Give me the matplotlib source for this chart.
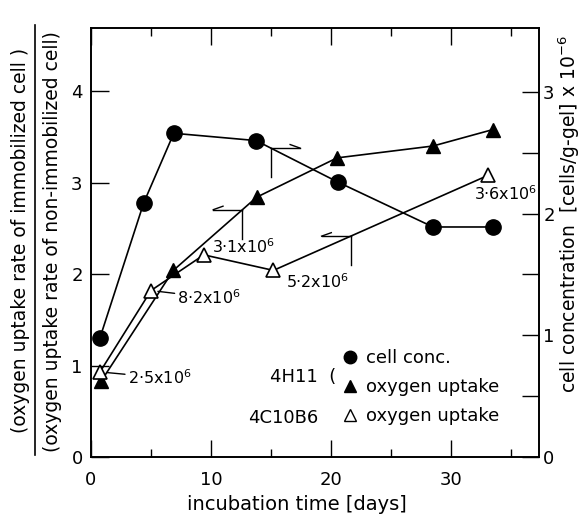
import matplotlib
matplotlib.use("Agg")
import matplotlib.pyplot as plt
from matplotlib.lines import Line2D
from matplotlib.transforms import Affine2D, ScaledTranslation
import numpy as np

# ---- data ----
days_cell = [0.75, 4.4, 6.9, 13.75, 20.55, 28.5, 33.5]
cell_conc = [0.98, 2.09, 2.66, 2.60, 2.26, 1.89, 1.89]

days_4h11 = [0.85, 6.86, 13.8, 20.5, 28.5, 33.5]
uptake_4h11 = [0.83, 2.04, 2.84, 3.27, 3.40, 3.58]

days_4c10 = [0.75, 5.0, 9.4, 15.2, 33.1]
uptake_4c10 = [0.93, 1.82, 2.21, 2.04, 3.08]
labels_4c10 = ["2·5x$10^{6}$", "8·2x$10^{6}$", "3·1x$10^{6}$", "5·2x$10^{6}$", "3·6x$10^{6}$"]

x_ticks = [0, 10, 20, 30]
left_ticks = [0, 1, 2, 3, 4]
right_ticks = [0, 1, 2, 3]

plt.rcParams['font.family'] = ['DejaVu Sans']
FS = 13

W, H = 581, 519
fig = plt.figure(figsize=(W / 100, H / 100), dpi=100)
ax = fig.add_axes([91 / W, 1 - 457 / H, 448 / W, 429 / H])
ax2 = ax.twinx()

ax.set_xlim(0, 37.33)
ax.set_ylim(0, 4.69)
ax2.set_ylim(0, 3.525)

lw = 1.2
ax2.plot(days_cell, cell_conc, '-o', color='black', lw=lw, ms=11, zorder=3)
ax.plot(days_4h11, uptake_4h11, '-^', color='black', lw=lw, ms=10, zorder=3)
ax.plot(days_4c10, uptake_4c10, '-^', color='black', mfc='white', mec='black',
        mew=1.2, lw=lw, ms=10, zorder=4)

# ---- value labels on open triangles ----
offsets = [(20, -4), (19, -5), (6, 6), (9, -8), (-10, -13)]
leaders = [True, True, False, False, False]
for xd, yd, lab, off, lead in zip(days_4c10, uptake_4c10, labels_4c10, offsets, leaders):
    ap = dict(arrowstyle='-', color='black', lw=1.0, shrinkA=0, shrinkB=5) if lead else None
    ax.annotate(lab, xy=(xd, yd), xytext=off, textcoords='offset points',
                ha='left', va='center', fontsize=11.5, arrowprops=ap, zorder=5)

# ---- axis-indicator flags (line -> axis) ----
def flag(axis, xs, ys, i, t, direction):
    x = xs[i] + t * (xs[i + 1] - xs[i])
    y = ys[i] + t * (ys[i + 1] - ys[i])
    tr = Affine2D().scale(fig.dpi / 72.0) + ScaledTranslation(x, y, axis.transData)
    kw = dict(color='black', lw=1.0, transform=tr, clip_on=False, zorder=5)
    axis.plot([0, 0], [0, -21], **kw)
    axis.plot([0, direction * 21], [0, 0], **kw)
    axis.plot([direction * 21, direction * 14], [0, 2.5], **kw)

flag(ax2, days_cell, cell_conc, 3, 0.18, +1)
flag(ax, days_4h11, uptake_4h11, 1, 0.83, -1)
flag(ax, days_4c10, uptake_4c10, 3, 0.36, -1)

# ---- ticks ----
ax.set_xticks(x_ticks)
ax.set_xticks([5, 15, 25, 35], minor=True)
ax.set_yticks(left_ticks)
ax.set_yticks([], minor=True)
ax.tick_params(axis='x', which='both', direction='in', top=True, bottom=True,
               labelsize=FS, pad=10, width=1.0)
ax.tick_params(axis='x', which='major', length=12)
ax.tick_params(axis='x', which='minor', length=6)
ax.tick_params(axis='y', which='major', direction='in', length=13, width=1.0,
               labelsize=FS, pad=6, right=False)

ax2.set_yticks(right_ticks)
ax2.set_yticks([0.5, 1.5, 2.5], minor=True)
ax2.tick_params(axis='y', which='both', direction='in', length=12, width=1.0,
                labelsize=FS, pad=3)

for a in (ax, ax2):
    for s in a.spines.values():
        s.set_linewidth(1.2)

# ---- legend ----
handles = [
    Line2D([], [], marker='o', ls='', color='black', ms=9),
    Line2D([], [], marker='^', ls='', color='black', ms=8),
    Line2D([], [], marker='^', ls='', color='black', mfc='white', mew=1.0, ms=8),
]
leg = ax.legend(handles, ["cell conc.", "oxygen uptake", "oxygen uptake"],
                loc='upper left', bbox_to_anchor=(0.558, 0.252), frameon=False,
                fontsize=FS, handlelength=1.0, handletextpad=0.4,
                labelspacing=0.62, borderpad=0, borderaxespad=0)
ax.text(0.40, 0.186, "4H11  (", transform=ax.transAxes, fontsize=FS, ha='left', va='center')
ax.text(0.35, 0.091, "4C10B6", transform=ax.transAxes, fontsize=FS, ha='left', va='center')

# ---- axis labels ----
fig.text(297 / W, 1 - 505 / H, "incubation time [days]", fontsize=14, ha='center', va='center')
fig.text(21 / W, 1 - 240 / H, "(oxygen uptake rate of immobilized cell )", rotation=90,
         fontsize=13.5, ha='center', va='center')
fig.text(53 / W, 1 - 242 / H, "(oxygen uptake rate of non-immobilized cell)", rotation=90,
         fontsize=13.5, ha='center', va='center')
fig.add_artist(Line2D([35 / W, 35 / W], [1 - 455 / H, 1 - 25 / H], color='black', lw=1.2,
                      transform=fig.transFigure))
fig.text(569 / W, 1 - 214 / H, "cell concentration  [cells/g-gel] x $10^{-6}$", rotation=90,
         fontsize=13.5, ha='center', va='center')

fig.savefig("out.png", dpi=100)
